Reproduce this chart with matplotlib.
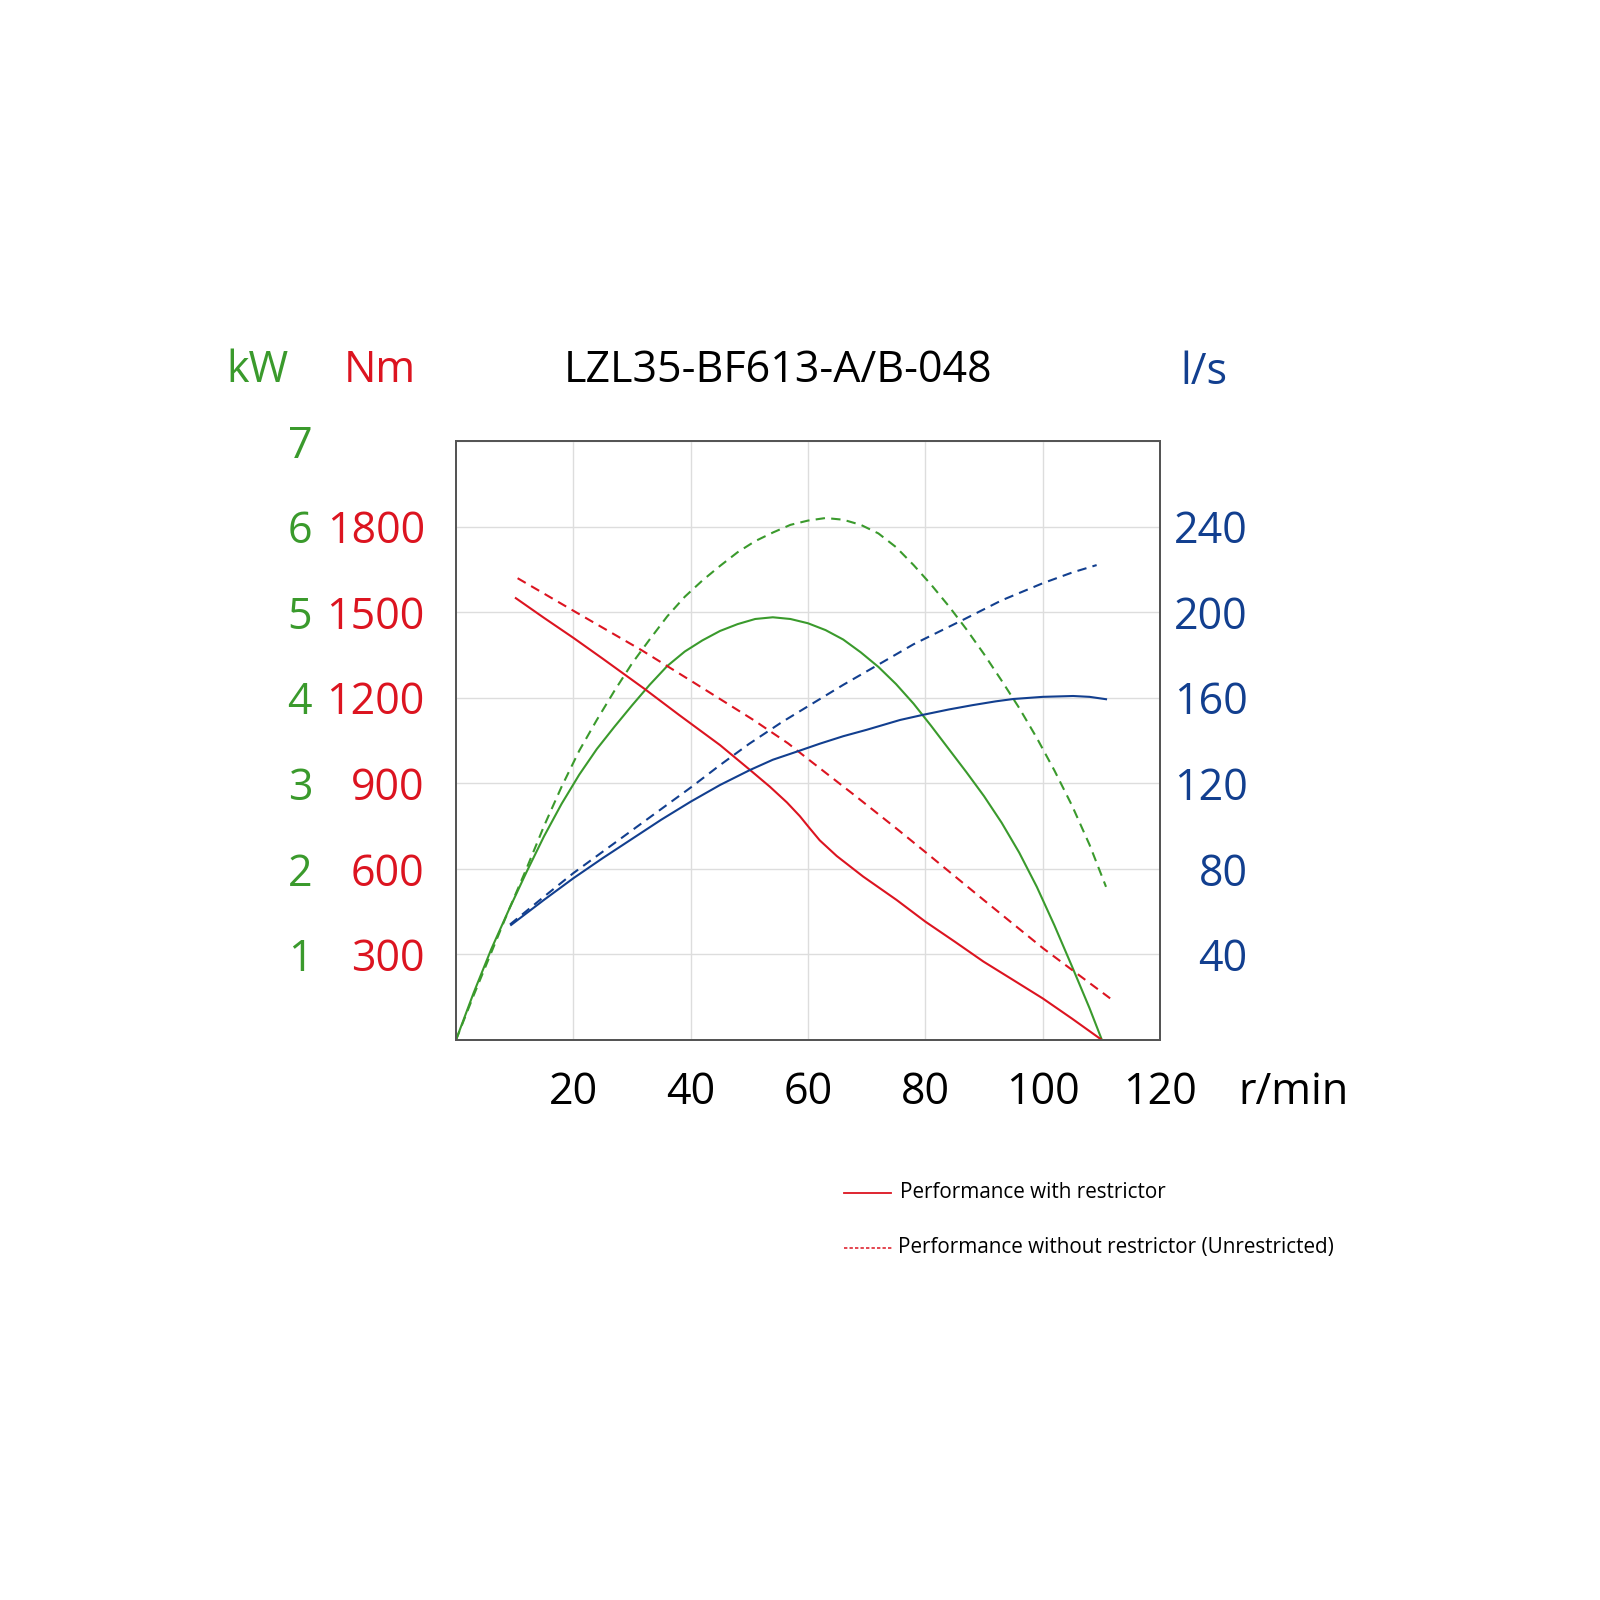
import matplotlib.pyplot as plt
from matplotlib.lines import Line2D

plt.rcParams["font.family"] = ["Open Sans", "DejaVu Sans"]

GREEN = "#3a9a2c"
RED = "#dc1420"
BLUE = "#123f8f"

# shaft speed (r/min) vs power (kW), torque (Nm) and flow (l/s)
power_rpm = [0, 3, 6, 9, 12, 15, 18, 21, 24, 27, 30, 33, 36, 39, 42, 45, 48, 51, 54, 57,
             60, 63, 66, 69, 72, 75, 78, 81, 84, 87, 90, 93, 96, 99, 102, 105, 108, 110.1]
power_kw = [0, 0.55, 1.06, 1.52, 1.96, 2.38, 2.76, 3.10, 3.40, 3.66, 3.91, 4.15, 4.37, 4.54,
            4.67, 4.78, 4.86, 4.92, 4.94, 4.92, 4.87, 4.79, 4.68, 4.53, 4.36, 4.16, 3.93, 3.67,
            3.40, 3.13, 2.85, 2.54, 2.19, 1.79, 1.34, 0.86, 0.37, 0]

power_free_rpm = [0, 3, 6, 9, 12, 15, 18, 21, 24, 27, 30, 33, 36, 39, 42, 45, 48, 51, 54, 57,
                  60, 63, 66, 69, 72, 75, 78, 81, 84, 87, 90, 93, 96, 99, 102, 105, 108, 110.8]
power_free_kw = [0, 0.52, 1.02, 1.52, 2.00, 2.50, 2.96, 3.38, 3.74, 4.08, 4.40, 4.68, 4.95, 5.18,
                 5.37, 5.54, 5.70, 5.83, 5.93, 6.02, 6.07, 6.10, 6.08, 6.02, 5.92, 5.76, 5.55,
                 5.32, 5.07, 4.80, 4.51, 4.20, 3.88, 3.53, 3.15, 2.74, 2.28, 1.79]

torque_rpm = [10.2, 15, 20, 25, 32.2, 38, 45, 50.1, 53.5, 56.4, 58.6, 60.3, 62, 64.9, 69.4,
              75.1, 80, 85, 89.9, 95, 100, 105, 110.1]
torque_nm = [1549, 1480, 1410, 1337, 1230, 1140, 1034, 947, 888, 833, 785, 742, 700, 645, 573,
             491, 415, 345, 275, 210, 146, 75, 0]

torque_free_rpm = [10.5, 20, 31.6, 40, 50.7, 56.6, 60, 68, 75.4, 80, 90, 100.1, 111.5]
torque_free_nm = [1619, 1505, 1367, 1260, 1122, 1040, 985, 857, 736, 659, 490, 321, 146]

flow_rpm = [9.4, 15, 20, 25, 30, 35, 40, 45, 50.1, 54, 58.1, 62, 66, 70, 75.7, 79.6, 84, 88,
            92, 95, 100, 105.2, 108, 110.8]
flow_ls = [53.8, 65.5, 75.6, 85, 94, 103, 111.4, 119.2, 126.2, 131, 134.8, 138.5, 142, 145,
           149.6, 152, 154.5, 156.5, 158.3, 159.4, 160.4, 160.8, 160.4, 159.3]

flow_free_rpm = [9.2, 15, 20, 25, 30, 35, 40, 45, 50, 55.5, 60, 66, 71.7, 78, 86.5, 93, 100,
                 105, 109.2]
flow_free_ls = [54, 67, 78, 88, 98, 108, 118, 128.5, 138.5, 148.5, 156, 166, 175, 185,
                196.5, 205.5, 213.5, 218.5, 222]

rpm_ticks = [20, 40, 60, 80, 100, 120]
kw_ticks = [1, 2, 3, 4, 5, 6, 7]
nm_ticks = [300, 600, 900, 1200, 1500, 1800]
ls_ticks = [40, 80, 120, 160, 200, 240]

fig = plt.figure(figsize=(16, 16), dpi=100)
ax = fig.add_axes([0.285, 0.35, 0.44, 0.374375])
ax_nm = ax.twinx()
ax_ls = ax.twinx()

lw = 1.5
dash = (0, (4.5, 3))

ax.plot(power_rpm, power_kw, color=GREEN, lw=lw)
ax.plot(power_free_rpm, power_free_kw, color=GREEN, lw=lw, linestyle=dash)
ax_nm.plot(torque_rpm, torque_nm, color=RED, lw=lw)
ax_nm.plot(torque_free_rpm, torque_free_nm, color=RED, lw=lw, linestyle=dash)
ax_ls.plot(flow_rpm, flow_ls, color=BLUE, lw=lw)
ax_ls.plot(flow_free_rpm, flow_free_ls, color=BLUE, lw=lw, linestyle=dash)

ax.set_xlim(0, 120)
ax.set_ylim(0, 7)
ax_nm.set_ylim(0, 2100)
ax_ls.set_ylim(0, 280)

ax.set_xticks(rpm_ticks)
ax.set_xticklabels([str(t) for t in rpm_ticks])
ax.tick_params(axis="x", length=0, pad=22, labelsize=31, labelcolor="black")

ax.set_yticks(kw_ticks)
ax.set_yticklabels([str(t) for t in kw_ticks])
ax.tick_params(axis="y", length=0, pad=103.5, labelsize=31, labelcolor=GREEN)

ax_nm.yaxis.set_ticks_position("left")
ax_nm.set_yticks(nm_ticks)
ax_nm.set_yticklabels([str(t) for t in nm_ticks])
ax_nm.tick_params(axis="y", length=0, pad=22.5, labelsize=31, labelcolor=RED)

ax_ls.set_yticks(ls_ticks)
ax_ls.set_yticklabels([str(t) for t in ls_ticks], ha="right")
ax_ls.tick_params(axis="y", length=0, pad=63, labelsize=31, labelcolor=BLUE)

ax.grid(True, color="#dddddd", lw=1)
ax.set_axisbelow(True)
for a in (ax, ax_nm, ax_ls):
    for s in a.spines.values():
        s.set_color("#555555")
        s.set_linewidth(1.3)

# axis unit labels and title
fig.text(258 / 1600, 1 - 371 / 1600, "kW", color=GREEN, fontsize=31, ha="center", va="center")
fig.text(380 / 1600, 1 - 371 / 1600, "Nm", color=RED, fontsize=31, ha="center", va="center")
fig.text(1204 / 1600, 1 - 373 / 1600, "l/s", color=BLUE, fontsize=31, ha="center", va="center")
fig.text(778 / 1600, 1 - 371 / 1600, "LZL35-BF613-A/B-048", color="black", fontsize=31,
         ha="center", va="center")
fig.text(1293 / 1600, 1 - 1093 / 1600, "r/min", color="black", fontsize=31, ha="center", va="center")

# legend
fig.add_artist(Line2D([844 / 1600, 891 / 1600], [1 - 1193 / 1600] * 2, color=RED, lw=1.3))
fig.add_artist(Line2D([844 / 1600, 893 / 1600], [1 - 1248 / 1600] * 2, color=RED, lw=1.1,
                      linestyle=(0, (2.2, 1.4))))
fig.text(900 / 1600, 1 - 1193 / 1600, "Performance with restrictor", fontsize=14.9,
         ha="left", va="center")
fig.text(898 / 1600, 1 - 1248 / 1600, "Performance without restrictor (Unrestricted)",
         fontsize=14.9, ha="left", va="center")

fig.savefig("out.png", dpi=100)
